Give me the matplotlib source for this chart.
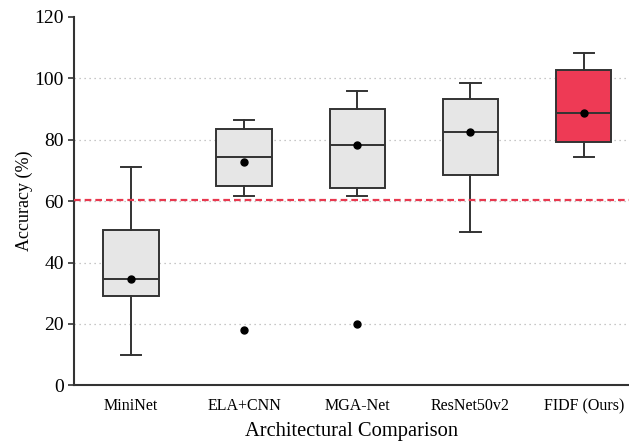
import matplotlib
matplotlib.use("Agg")
import matplotlib.pyplot as plt

# values
models = ["MiniNet", "ELA+CNN", "MGA-Net", "ResNet50v2", "FIDF (Ours)"]
whislo = [9.8, 61.7, 61.7, 49.8, 74.3]
q1 = [29.2, 64.8, 64.1, 68.4, 79.1]
med = [34.5, 74.5, 78.4, 82.6, 88.8]
q3 = [50.6, 83.4, 89.9, 93.3, 102.6]
whishi = [71.1, 86.3, 95.7, 98.4, 108.2]
means = [34.6, 72.6, 78.2, 82.4, 88.8]
outliers = [[], [18.1], [20.0], [], []]
threshold = 60.5

plt.rcParams["font.family"] = ["Liberation Serif", "DejaVu Serif"]

fig = plt.figure(figsize=(6.29, 4.41), dpi=100)
ax = fig.add_axes([0.118, 0.126, 0.882, 0.836])

stats = []
for i, name in enumerate(models):
    stats.append(dict(label=name, whislo=whislo[i], q1=q1[i], med=med[i],
                      q3=q3[i], whishi=whishi[i], mean=means[i],
                      fliers=outliers[i]))

edge = "#333333"
bp = ax.bxp(stats, positions=range(len(models)), widths=0.49,
            capwidths=0.18, patch_artist=True, showmeans=True,
            boxprops=dict(edgecolor=edge, linewidth=1.4),
            whiskerprops=dict(color=edge, linewidth=1.4),
            capprops=dict(color=edge, linewidth=1.4),
            medianprops=dict(color=edge, linewidth=1.4),
            meanprops=dict(marker="o", markerfacecolor="black",
                           markeredgecolor="black", markersize=5),
            flierprops=dict(marker="o", markerfacecolor="black",
                            markeredgecolor="black", markersize=5),
            zorder=3)

for i, box in enumerate(bp["boxes"]):
    box.set_facecolor("#ee3a55" if i == len(models) - 1 else "#e6e6e6")

ax.axhline(threshold, color="#e8384f", linestyle=(0, (3, 1.8)),
           linewidth=1.6, zorder=4)

ax.set_xlim(-0.5, 4.4)
ax.set_ylim(0, 120)
ax.set_yticks(range(0, 121, 20))
ax.grid(axis="y", linestyle=(0, (1, 3)), color="#b5b5b5", linewidth=0.9)
ax.set_axisbelow(True)
ax.get_ygridlines()[-1].set_visible(False)

for side in ["top", "right"]:
    ax.spines[side].set_visible(False)
for side in ["left", "bottom"]:
    ax.spines[side].set_color(edge)
    ax.spines[side].set_linewidth(1.5)

ax.tick_params(axis="x", length=0, pad=9, labelsize=11.5)
ax.tick_params(axis="y", length=4, width=1.2, color=edge, labelsize=14)

ax.set_xlabel("Architectural Comparison", fontsize=14.8, labelpad=6)
ax.set_ylabel("Accuracy (%)", fontsize=13, labelpad=1)

fig.savefig("out.png", dpi=100, facecolor="white")
